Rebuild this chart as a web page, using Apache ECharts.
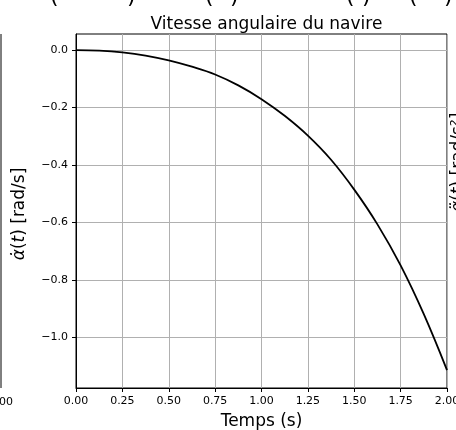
<!DOCTYPE html>
<html>
<head>
<meta charset="utf-8">
<script src="https://cdn.jsdelivr.net/npm/echarts@6/dist/echarts.min.js"></script>
<style>
html,body{margin:0;padding:0;background:#fff;}
#chart{width:456px;height:430px;}
</style>
</head>
<body>
<div id="chart"></div>
<script>
// Data
const times = [0, 0.125, 0.25, 0.375, 0.5, 0.625, 0.75, 0.875, 1.0, 1.125, 1.25, 1.375, 1.5, 1.625, 1.75, 1.875, 2.0];
const omega = [0, -0.002, -0.008, -0.019, -0.036, -0.058, -0.085, -0.123, -0.171, -0.229, -0.298, -0.382, -0.486, -0.607, -0.750, -0.920, -1.115];
const yTicks = [0, -0.2, -0.4, -0.6, -0.8, -1.0];
const titleText = 'Vitesse angulaire du navire';
const xLabelText = 'Temps (s)';

const FONT = 'DejaVu Sans';
const chart = echarts.init(document.getElementById('chart'), null, {renderer: 'canvas'});

const option = {
  backgroundColor: '#ffffff',
  animation: false,
  grid: {left: 76, right: 9, top: 34, bottom: 42, containLabel: false, outerBoundsMode: 'none',
    show: true, borderColor: '#000', borderWidth: 1, backgroundColor: 'transparent'},
  title: {
    text: titleText, left: 261.5, top: 11, textAlign: 'center',
    textStyle: {fontFamily: FONT, fontSize: 17, fontWeight: 'normal', color: '#000'}
  },
  xAxis: {
    type: 'value', min: 0, max: 2, interval: 0.25,
    axisLine: {show: true, onZero: false, lineStyle: {color: '#000', width: 1}},
    axisTick: {show: true, length: 4, lineStyle: {color: '#000', width: 1}},
    axisLabel: {margin: 8, fontFamily: FONT, fontSize: 11, color: '#000', formatter: v => v.toFixed(2),
      showMinLabel: true, showMaxLabel: true},
    splitLine: {show: true, lineStyle: {color: '#b0b0b0', width: 1}}
  },
  yAxis: {
    type: 'value', min: -1.177, max: 0.056,
    axisLine: {show: true, onZero: false, lineStyle: {color: '#000', width: 1}},
    axisTick: {show: true, length: 4, customValues: yTicks, lineStyle: {color: '#000', width: 1}},
    axisLabel: {margin: 8, fontFamily: FONT, fontSize: 11, color: '#000', customValues: yTicks,
      formatter: v => v.toFixed(1).replace('-', '\u2212')},
    splitLine: {show: true, lineStyle: {color: '#b0b0b0', width: 1}}
  },
  series: [{
    type: 'line',
    data: times.map((t, i) => [t, omega[i]]),
    showSymbol: false, smooth: 0.4,
    lineStyle: {color: '#000', width: 1.8},
    clip: true
  }],
  graphic: [
    // y-axis label (mathtext-like)
    {type: 'text', x: 20, y: 214, rotation: Math.PI / 2,
      style: {
        text: '{i|\u03B1\u0307}{n|(}{i|t}{n|) [rad/s]}',
        rich: {
          i: {fontFamily: FONT, fontStyle: 'italic', fontSize: 17, fill: '#000'},
          n: {fontFamily: FONT, fontSize: 17, fill: '#000'}
        },
        align: 'center', verticalAlign: 'middle', fill: '#000'
      }},
    // x-axis label
    {type: 'text', x: 261.5, y: 422,
      style: {text: xLabelText, fontFamily: FONT, fontSize: 17, fill: '#000', align: 'center', verticalAlign: 'middle'}},
    // neighbouring subplot (left), cut off
    {type: 'line', shape: {x1: 1, y1: 34, x2: 1, y2: 388}, style: {stroke: '#000', lineWidth: 1}},
    {type: 'text', x: 13, y: 402, style: {text: '2.00', fontFamily: FONT, fontSize: 11, fill: '#000', align: 'right', verticalAlign: 'middle'}},
    // neighbouring subplot (right) y label, cut off
    {type: 'text', x: 459, y: 212, rotation: Math.PI / 2,
      style: {
        text: '{i|\u03B1\u0308}{n|(}{i|t}{n|) [rad/s\u00B2]}',
        rich: {
          i: {fontFamily: FONT, fontStyle: 'italic', fontSize: 17, fill: '#000'},
          n: {fontFamily: FONT, fontSize: 17, fill: '#000'}
        },
        align: 'left', verticalAlign: 'middle', fill: '#000'
      }},
    // figure suptitle, cut off at the top
    {type: 'text', x: 50, y: -3, style: {text: '(', fontFamily: FONT, fontSize: 22, fill: '#000', verticalAlign: 'middle'}},
    {type: 'text', x: 127, y: -3, style: {text: ')', fontFamily: FONT, fontSize: 22, fill: '#000', verticalAlign: 'middle'}},
    {type: 'text', x: 205, y: -3, style: {text: '(', fontFamily: FONT, fontSize: 22, fill: '#000', verticalAlign: 'middle'}},
    {type: 'text', x: 230, y: -3, style: {text: ')', fontFamily: FONT, fontSize: 22, fill: '#000', verticalAlign: 'middle'}},
    {type: 'text', x: 346, y: -3, style: {text: '(', fontFamily: FONT, fontSize: 22, fill: '#000', verticalAlign: 'middle'}},
    {type: 'text', x: 362, y: -3, style: {text: ')', fontFamily: FONT, fontSize: 22, fill: '#000', verticalAlign: 'middle'}},
    {type: 'text', x: 409, y: -3, style: {text: '(', fontFamily: FONT, fontSize: 22, fill: '#000', verticalAlign: 'middle'}},
    {type: 'text', x: 444, y: -3, style: {text: ')', fontFamily: FONT, fontSize: 22, fill: '#000', verticalAlign: 'middle'}}
  ]
};
chart.setOption(option);
</script>
</body>
</html>
